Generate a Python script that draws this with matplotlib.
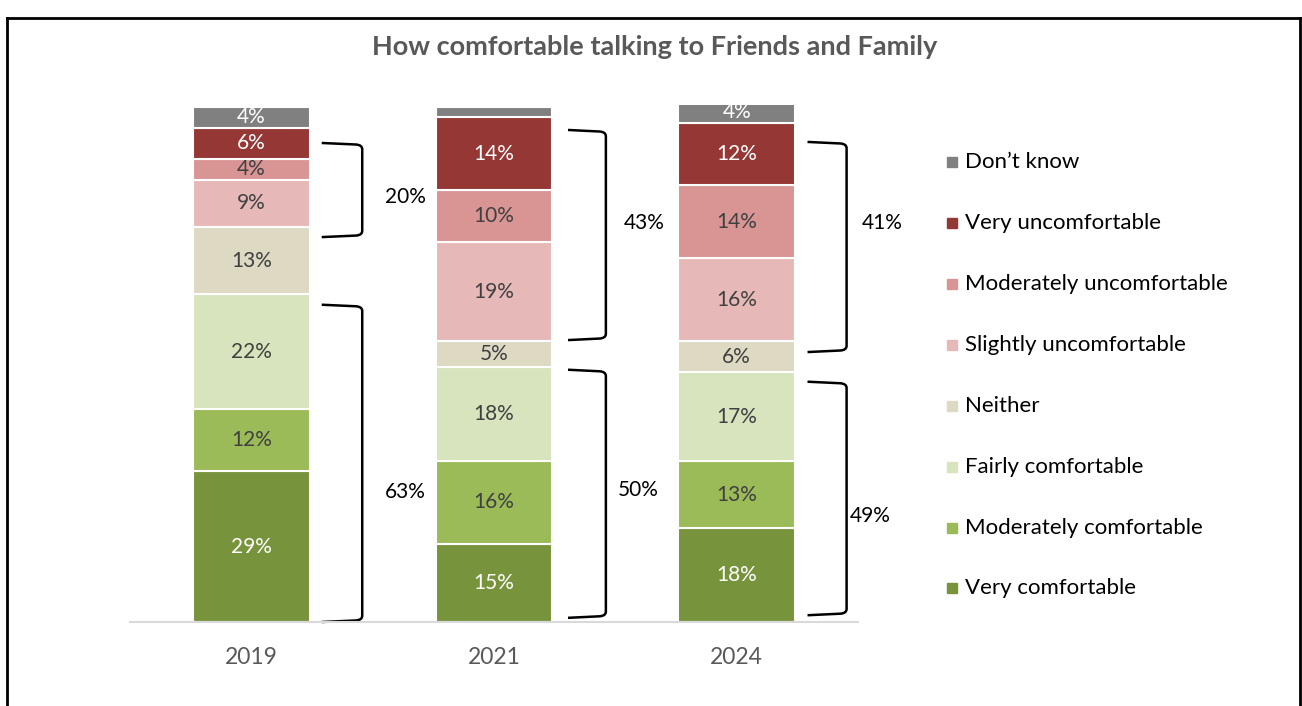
import numpy as np
import matplotlib.pyplot as plt
from matplotlib.path import Path
from matplotlib.patches import PathPatch, Rectangle
from matplotlib.lines import Line2D

plt.rcParams['font.family'] = ['Lato', 'DejaVu Sans']

# survey data (per cent), bottom segment first
years = ["2019", "2021", "2024"]
categories = ["Very comfortable", "Moderately comfortable", "Fairly comfortable",
              "Neither", "Slightly uncomfortable", "Moderately uncomfortable",
              "Very uncomfortable", "Don\u2019t know"]
very_comf = [29, 15, 18]
mod_comf = [12, 16, 13]
fairly_comf = [22, 18, 17]
neither = [13, 5, 6]
slightly_uncomf = [9, 19, 16]
mod_uncomf = [4, 10, 14]
very_uncomf = [6, 14, 12]
dont_know = [4, 2, 4]

# net totals shown beside the brackets
net_uncomf = [20, 43, 41]
net_comf = [63, 50, 49]

colors = ["#77933C", "#9BBB59", "#D7E4BD", "#DDD9C3",
          "#E6B9B8", "#D99594", "#953735", "#808080"]
text_colors = ["white", "#404040", "#404040", "#404040",
               "#404040", "#404040", "white", "white"]

series = [very_comf, mod_comf, fairly_comf, neither,
          slightly_uncomf, mod_uncomf, very_uncomf, dont_know]

fig = plt.figure(figsize=(13.02, 7.06), dpi=100)
ax = fig.add_axes([130 / 1302, 1 - 622 / 706, 728 / 1302, 517 / 706])

x = np.arange(len(years))
bottom = np.zeros(len(years))
for vals, col, tcol in zip(series, colors, text_colors):
    vals = np.array(vals, dtype=float)
    ax.bar(x, vals, width=0.48, bottom=bottom, color=col,
           edgecolor="white", linewidth=1.5)
    for xi, v, b in zip(x, vals, bottom):
        if v >= 4:
            ax.text(xi, b + v / 2, f"{int(v)}%", ha="center", va="center",
                    fontsize=15, color=tcol)
    bottom += vals

ax.set_xlim(-0.5, 2.5)
ax.set_ylim(0, 99.4)
ax.set_xticks(x)
ax.set_xticklabels(years, fontsize=16.5, color="#595959")
ax.tick_params(axis="x", length=0, pad=18)
ax.set_yticks([])
for s in ["top", "right", "left"]:
    ax.spines[s].set_visible(False)
ax.spines["bottom"].set_color("#D9D9D9")
ax.spines["bottom"].set_linewidth(1.5)


def bracket(ax, x0, x1, ytop, ybot):
    rx, ry = 0.025, 1.2
    verts = [(x0, ytop), (x1 - rx, ytop - 0.3), (x1, ytop - 0.4),
             (x1, ytop - ry), (x1, ybot + ry), (x1, ybot + 0.4),
             (x1 - rx, ybot + 0.3), (x0, ybot)]
    codes = [Path.MOVETO, Path.LINETO, Path.CURVE3, Path.CURVE3,
             Path.LINETO, Path.CURVE3, Path.CURVE3, Path.LINETO]
    ax.add_patch(PathPatch(Path(verts, codes), fill=False, lw=1.8,
                           edgecolor="black", clip_on=False))


# bracket spans: (x offset start, x offset end, top, bottom, label x, label y)
upper = [(0.29, 0.457, 92.1, 74.0, 0.634, 81.7),
         (0.305, 0.461, 94.6, 54.2, 0.617, 76.7),
         (0.292, 0.453, 92.3, 51.9, 0.60, 76.7)]
lower = [(0.29, 0.457, 61.0, 0.0, 0.634, 25.0),
         (0.305, 0.461, 48.5, 0.8, 0.593, 25.4),
         (0.292, 0.453, 46.2, 1.3, 0.55, 20.4)]

for i in range(len(years)):
    for spec, val in ((upper[i], net_uncomf[i]), (lower[i], net_comf[i])):
        x0, x1, yt, yb, lx, ly = spec
        bracket(ax, i + x0, i + x1, yt, yb)
        ax.text(i + lx, ly, f"{val}%", ha="center", va="center",
                fontsize=15, color="black", clip_on=False)

fig.text(655 / 1302, 1 - 47 / 706, "How comfortable talking to Friends and Family",
         ha="center", va="center", fontsize=19.5, fontweight="bold", color="#595959")

# legend, top entry first
leg_y = [162, 223, 284, 345, 406, 467, 528, 588]
for yy, lab, col in zip(leg_y, categories[::-1], colors[::-1]):
    fig.patches.append(Rectangle((947 / 1302, 1 - (yy + 5) / 706), 10 / 1302, 10 / 706,
                                 transform=fig.transFigure, color=col))
    fig.text(965 / 1302, 1 - yy / 706, lab, ha="left", va="center",
             fontsize=16, color="black")

# frame around the chart (bottom edge runs off the page)
border = [((7, 7), (706, 18)), ((7, 1300), (18, 18)), ((1300, 1300), (18, 706))]
for xs, ys in border:
    fig.add_artist(Line2D([v / 1302 for v in xs], [1 - v / 706 for v in ys],
                          transform=fig.transFigure, color="black", lw=2))

fig.savefig("out.png", dpi=100)
